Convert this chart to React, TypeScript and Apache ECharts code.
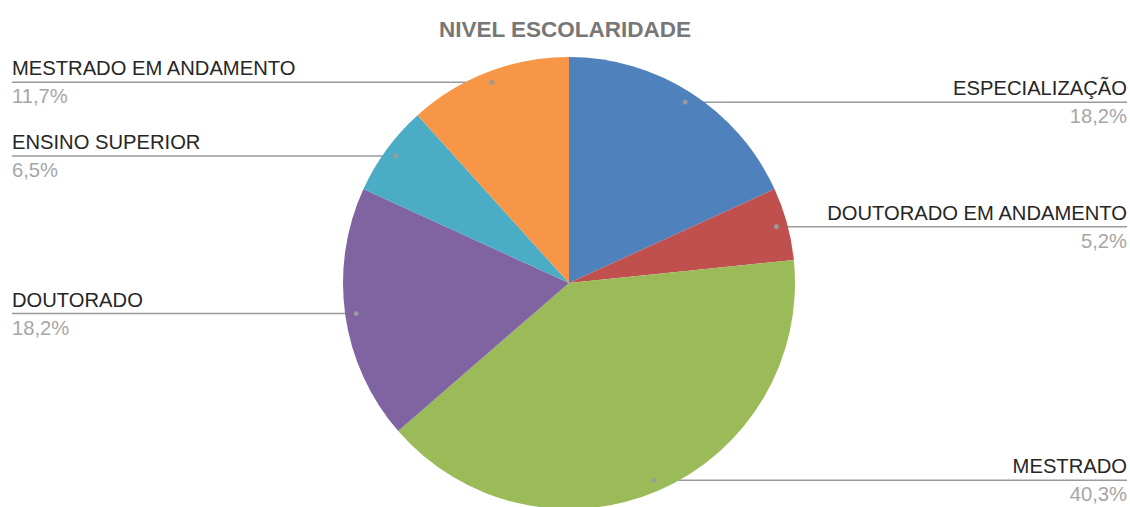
import React, { useEffect, useRef } from "react";
import * as echarts from "echarts";

const title = "NIVEL ESCOLARIDADE";
const categories = [
  "ESPECIALIZAÇÃO",
  "DOUTORADO EM ANDAMENTO",
  "MESTRADO",
  "DOUTORADO",
  "ENSINO SUPERIOR",
  "MESTRADO EM ANDAMENTO",
];
const percents = [18.2, 5.2, 40.3, 18.2, 6.5, 11.7];
const colors = ["#4F81BD", "#C0504D", "#9BBB59", "#8064A2", "#4BACC6", "#F79646"];

const W = 1130;
const H = 507;
const CX = 569;
const CY = 283;
const R = 226;
const DOT_R = 215;
const FONT = "'Liberation Sans', Arial, sans-serif";

function midAngle(i: number): number {
  const total = percents.reduce((a, b) => a + b, 0);
  let before = 0;
  for (let k = 0; k < i; k++) before += percents[k];
  const frac = (before + percents[i] / 2) / total;
  return frac * Math.PI * 2; // clockwise from top
}

function dotPoint(i: number): [number, number] {
  const a = midAngle(i);
  return [CX + DOT_R * Math.sin(a), CY - DOT_R * Math.cos(a)];
}

export default function App() {
  const ref = useRef<HTMLDivElement>(null);
  useEffect(() => {
    document.body.style.margin = "0";
    if (!ref.current) return;
    const chart = echarts.init(ref.current, undefined, { renderer: "svg" });
    chart.setOption({
      animation: false,
      backgroundColor: "#ffffff",
      title: {
        text: title,
        left: "center",
        top: 12,
        textStyle: {
          fontFamily: FONT,
          fontSize: 22.5,
          fontWeight: "bold",
          color: "#777777",
          lineHeight: 24,
        },
      },
      series: [
        {
          type: "pie",
          center: [CX, CY],
          radius: R,
          startAngle: 90,
          clockwise: true,
          itemStyle: { borderWidth: 0 },
          emphasis: { disabled: true },
          data: categories.map((name, i) => ({
            name,
            value: percents[i],
            itemStyle: { color: colors[i] },
          })),
          label: {
            show: true,
            position: "outer",
            formatter: (p: any) =>
              `{n|${p.name}}\n{p|${p.value.toFixed(1).replace(".", ",")}%}`,
            rich: {
              n: { fontFamily: FONT, fontSize: 20.2, color: "#262626", lineHeight: 28 },
              p: { fontFamily: FONT, fontSize: 20.2, color: "#A6A6A6", lineHeight: 28 },
            },
          },
          labelLine: {
            show: true,
            length: 10,
            length2: 10,
            lineStyle: { color: "#9A9A9A", width: 1.5 },
          },
          labelLayout: (params: any) => {
            const i = params.dataIndex;
            const d = dotPoint(i);
            const right = d[0] >= CX;
            const endX = right ? W - 3 : 12;
            return {
              x: endX,
              y: d[1],
              align: right ? "right" : "left",
              verticalAlign: "middle",
              labelLinePoints: [d, [(d[0] + endX) / 2, d[1]], [endX, d[1]]],
            };
          },
        },
        {
          type: "custom",
          coordinateSystem: "none",
          silent: true,
          z: 5,
          data: percents,
          renderItem: (params: any) => {
            const d = dotPoint(params.dataIndex);
            return {
              type: "circle",
              shape: { cx: d[0], cy: d[1], r: 2.5 },
              style: { fill: "#9A9A9A" },
            };
          },
        },
      ],
    });
    return () => chart.dispose();
  }, []);
  return <div ref={ref} style={{ width: W, height: H }} />;
}
